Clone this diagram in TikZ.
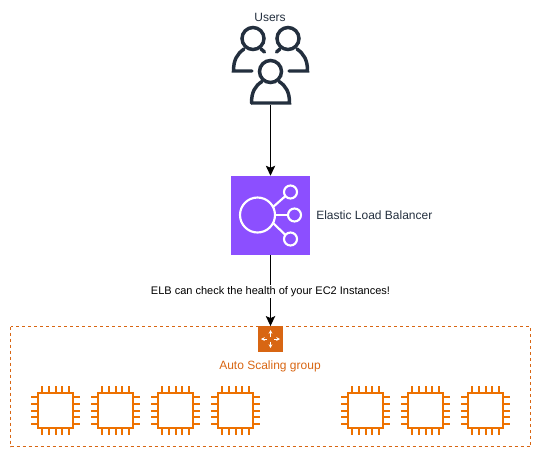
\documentclass[tikz,border=0pt]{standalone}
\usepackage{fontspec}
\setmainfont{Liberation Sans}
\usetikzlibrary{arrows.meta}
\definecolor{awsdark}{HTML}{232F3E}
\definecolor{elbpurple}{HTML}{8C4FFF}
\definecolor{asgorange}{HTML}{D86613}
\definecolor{chiporange}{HTML}{ED7100}
\tikzset{
  x=0.75pt,y=-0.75pt,
  iconbox/.style={draw=none,inner sep=0,minimum size=59.25pt,fill=elbpurple},
  asgbox/.style={draw=none,inner sep=0,minimum size=19pt,fill=asgorange},
  conn/.style={draw=black,line width=0.75pt,-{Stealth[length=7.5pt,width=7pt,inset=1.5pt]}},
  lbl/.style={font=\fontsize{9}{11}\selectfont,text=awsdark,inner sep=0},
  person/.style={draw=awsdark,line width=2.6pt,line cap=round},
  elbline/.style={draw=white,line width=1.6pt},
  asgarrow/.style={draw=white,line width=0.6pt,-{Stealth[length=2.8pt,width=2.8pt]}},
  pin/.style={draw=chiporange,line width=1.5pt},
  chipbody/.style={draw=chiporange,line width=2pt,fill=white}
}
\newcommand{\chipicon}[1]{%
  \begin{scope}[shift={(#1,410.5)}]
    \draw[chipbody] (-17.5,-17.5) rectangle (17.5,17.5);
    \foreach \d in {-13.4,-6.7,0,6.7,13.4}{
      \draw[pin] (\d,-24.5) -- (\d,-18);
      \draw[pin] (\d,18) -- (\d,24.5);
      \draw[pin] (-24.5,\d) -- (-18,\d);
      \draw[pin] (18,\d) -- (24.5,\d);
    }
  \end{scope}}
\begin{document}
\begin{tikzpicture}
\useasboundingbox (0,0) rectangle (541,458);
% Auto Scaling group
\draw[draw=asgorange,line width=0.75pt,dash pattern=on 2.25pt off 2.25pt] (10.5,326.5) rectangle (530.5,446.5);
\node[asgbox] (asg) at (270.5,339) {};
\node[lbl,text=asgorange] (asglabel) at (270,366) {Auto Scaling group};
\draw[asgarrow] (270.5,336.5) -- (270.5,330);
\draw[asgarrow] (270.5,341.5) -- (270.5,348);
\draw[asgarrow] (267,339) -- (261,339);
\draw[asgarrow] (274,339) -- (280,339);
% EC2 chips
\chipicon{55.5}\chipicon{115.5}\chipicon{175.5}\chipicon{235.5}
\chipicon{365.5}\chipicon{425.5}\chipicon{485.5}
% Users
\node[lbl] (userslabel) at (270,17) {Users};
\coordinate (users) at (270.5,105);
\draw[person] (253,38.5) circle (11);
\draw[person] (288,38.5) circle (11);
\draw[person] (252,71) -- (233.5,71) .. controls (233.5,60) and (237,54) .. (244,49);
\draw[person] (261,49) -- (264.5,52);
\draw[person] (289,71) -- (307.5,71) .. controls (307.5,60) and (304,54) .. (297,49);
\draw[person] (280,49) -- (276.5,52);
\draw[person] (270.5,71.5) circle (11);
\draw[person] (251.5,103) -- (289.5,103) .. controls (289.5,92) and (286,86) .. (279,81.5);
\draw[person] (251.5,103) .. controls (251.5,92) and (255,86) .. (262,81.5);
% ELB
\node[iconbox] (elb) at (270.5,215.5) {};
\draw[elbline] (257.5,215) circle (17.5);
\draw[elbline] (290.5,192) circle (6.5);
\draw[elbline] (294.5,215) circle (6.5);
\draw[elbline] (290.5,239) circle (6.5);
\draw[elbline] (273,207) -- (285.5,196);
\draw[elbline] (275,215) -- (288,215);
\draw[elbline] (273,223) -- (285.5,235);
\node[lbl,anchor=west] (elblabel) at (316,215) {Elastic Load Balancer};
% Connectors
\draw[conn] (users) -- (elb.north);
\draw[conn] (elb.south) -- node[fill=white,inner sep=1pt,yshift=-0.75pt,font=\fontsize{8.25}{10}\selectfont,text=black] (elblink) {ELB can check the health of your EC2 Instances!} (asg.north);
\end{tikzpicture}
\end{document}
